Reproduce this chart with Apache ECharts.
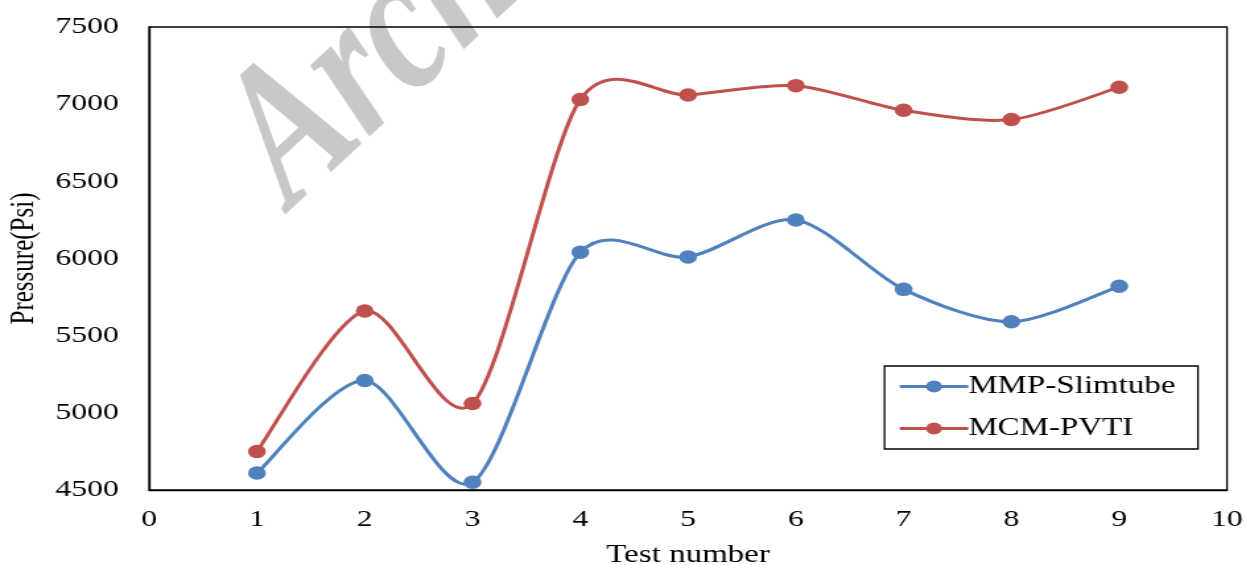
<!DOCTYPE html>
<html>
<head>
<meta charset="utf-8">
<script src="https://cdn.jsdelivr.net/npm/echarts@6/dist/echarts.min.js"></script>
<style>
  html, body { margin: 0; padding: 0; background: #fff; overflow: hidden; }
  #chart { width: 944px; height: 565px; transform: scaleX(1.3199); transform-origin: 0 0; }
</style>
</head>
<body>
<div id="chart"></div>
<script>
// Data
const testNumbers = [1, 2, 3, 4, 5, 6, 7, 8, 9];
const mmpSlimtube = [4610, 5210, 4550, 6040, 6010, 6250, 5800, 5590, 5820];
const mcmPvti     = [4750, 5660, 5060, 7030, 7060, 7120, 6960, 6900, 7110];
const seriesNames = ['MMP-Slimtube', 'MCM-PVTI'];
const seriesColors = ['#4F81BD', '#C0504D'];
const xAxisTitle = 'Test number';
const yAxisTitle = 'Pressure(Psi)';
const watermarkText = 'Archive of SID';

const FONT = '"Liberation Serif", "Times New Roman", serif';
const chart = echarts.init(document.getElementById('chart'), null, { renderer: 'canvas' });

function pairs(xs, ys) { return xs.map((x, i) => [x, ys[i]]); }

// Excel-like smoothed curve (Catmull-Rom style Bezier) through points mapped by the axes
const TENSION = 1 / 7;
function curveSeries(name, ys, color) {
  return {
    name: name, type: 'custom', silent: true, z: 2,
    data: pairs(testNumbers, ys),
    encode: { x: 0, y: 1 },
    renderItem: function (params, api) {
      if (params.dataIndex !== 0) return null;
      const p = testNumbers.map((x, i) => api.coord([x, ys[i]]));
      const n = p.length;
      let d = 'M' + p[0][0] + ' ' + p[0][1];
      for (let i = 0; i < n - 1; i++) {
        const p0 = p[Math.max(i - 1, 0)], p1 = p[i], p2 = p[i + 1], p3 = p[Math.min(i + 2, n - 1)];
        const c1x = p1[0] + (p2[0] - p0[0]) * TENSION, c1y = p1[1] + (p2[1] - p0[1]) * TENSION;
        const c2x = p2[0] - (p3[0] - p1[0]) * TENSION, c2y = p2[1] - (p3[1] - p1[1]) * TENSION;
        d += ' C' + c1x + ' ' + c1y + ' ' + c2x + ' ' + c2y + ' ' + p2[0] + ' ' + p2[1];
      }
      return {
        type: 'path',
        shape: { pathData: d },
        style: { fill: 'none', stroke: color, lineWidth: 3, lineJoin: 'round', lineCap: 'round' }
      };
    }
  };
}

function markerSeries(name, ys, color) {
  return {
    name: name, type: 'line', z: 3,
    data: pairs(testNumbers, ys),
    symbol: 'circle', symbolSize: 13.5,
    lineStyle: { color: color, width: 3, opacity: 0 },
    itemStyle: { color: color }
  };
}

chart.setOption({
  animation: false,
  backgroundColor: '#fff',
  graphic: [{
    type: 'text',
    x: 222, y: 211,
    rotation: 0.885,
    scaleX: 0.86, scaleY: 1.1,
    skewX: -0.29,
    z: -10,
    silent: true,
    style: {
      text: watermarkText,
      x: 0, y: 36,
      font: 'italic bold 158px "Liberation Serif", serif',
      fill: '#c8c8c8',
      align: 'left',
      verticalAlign: 'bottom'
    }
  }],
  grid: {
    left: 113, right: 14.4, top: 27, bottom: 75,
    outerBoundsMode: 'none',
    containLabel: false,
    show: true, borderColor: '#000', borderWidth: 1.3,
    backgroundColor: 'transparent'
  },
  legend: {
    orient: 'vertical',
    right: 36.4, top: 366,
    itemWidth: 52, itemHeight: 15, itemGap: 17,
    padding: [8, 17, 8, 10],
    borderColor: '#000', borderWidth: 1.3,
    backgroundColor: '#fff',
    lineStyle: { opacity: 1, width: 3 },
    textStyle: { fontFamily: FONT, fontSize: 25, color: '#000', padding: [0, 0, 0, -5] },
    data: seriesNames
  },
  xAxis: {
    type: 'value', min: 0, max: 10, interval: 1,
    name: xAxisTitle, nameLocation: 'middle', nameGap: 53,
    nameTextStyle: { fontFamily: FONT, fontSize: 25, color: '#000' },
    axisLine: { show: true, onZero: false, lineStyle: { color: '#000', width: 1.3 } },
    axisTick: { show: false },
    splitLine: { show: false },
    axisLabel: { fontFamily: FONT, fontSize: 24, color: '#000', margin: 18 }
  },
  yAxis: {
    type: 'value', min: 4500, max: 7500, interval: 500,
    name: yAxisTitle, nameLocation: 'middle', nameGap: 81,
    nameTextStyle: { fontFamily: FONT, fontSize: 25, color: '#000' },
    axisLine: { show: true, lineStyle: { color: '#000', width: 1.3 } },
    axisTick: { show: false },
    splitLine: { show: false },
    axisLabel: { fontFamily: FONT, fontSize: 24, color: '#000', margin: 23, formatter: v => String(v) }
  },
  series: [
    markerSeries(seriesNames[0], mmpSlimtube, seriesColors[0]),
    markerSeries(seriesNames[1], mcmPvti, seriesColors[1]),
    curveSeries(seriesNames[0] + ' curve', mmpSlimtube, seriesColors[0]),
    curveSeries(seriesNames[1] + ' curve', mcmPvti, seriesColors[1])
  ]
});
</script>
</body>
</html>
